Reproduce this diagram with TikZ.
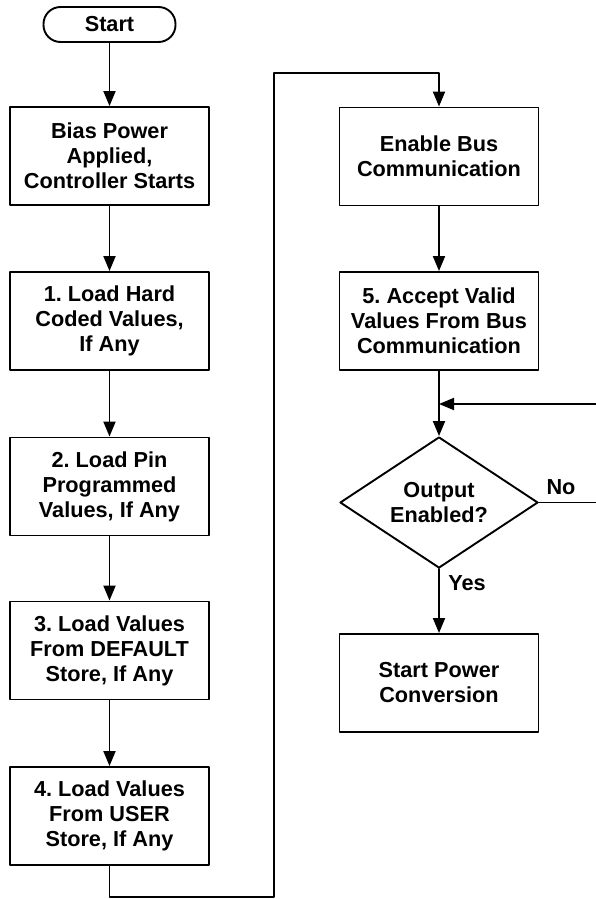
\documentclass[tikz,border=0pt]{standalone}
\usepackage{fontspec}
\setmainfont{Liberation Sans}
\frenchspacing
\usepackage{tikz}
\usetikzlibrary{arrows.meta, shapes.geometric, calc, positioning}

\begin{document}
\begin{tikzpicture}[line cap=round,line join=round,>={Triangle[length=15pt,width=12pt]},x=1pt,y=-1pt]
\tikzstyle{every node}=[font=\fontsize{21.7}{25}\selectfont\bfseries]
\tikzstyle{box}=[draw, line width=1.9pt, minimum width=199pt, minimum height=98pt, align=center, inner sep=0pt]
\tikzstyle{term}=[draw, line width=1.9pt, rounded corners=17pt, minimum width=132pt, minimum height=35pt, inner sep=0pt]
\tikzstyle{decision}=[draw, line width=1.9pt, diamond, aspect=1.51, minimum width=198pt, minimum height=131pt, align=center, inner sep=0pt]
\tikzstyle{flow}=[line width=1.9pt]
\useasboundingbox (0,0) rectangle (596,899);
% left column
\node[term] (start) at (109.5,24.5) {Start};
\node[box] (bias) at (109.5,156) {Bias Power\\Applied,\\Controller Starts};
\node[box] (load1) at (109.5,321) {1. Load Hard\\Coded Values,\\If Any};
\node[box] (load2) at (109.5,486.5) {2. Load Pin\\Programmed\\Values, If Any};
\node[box] (load3) at (109.5,650.5) {3. Load Values\\From DEFAULT\\Store, If Any};
\node[box] (load4) at (109.5,816) {4. Load Values\\From USER\\Store, If Any};
% right column
\node[box] (bus) at (439,156.5) {Enable Bus\\Communication};
\node[box] (accept) at (439,321) {5. Accept Valid\\Values From Bus\\Communication};
\coordinate (join) at (439,404);
\node[decision] (enabled) at (439,502.5) {Output\\Enabled?};
\node[box] (power) at (439,683) {Start Power\\Conversion};
\coordinate (lowturn) at (274,897);
\coordinate (highturn) at (274,73);
\coordinate (noturn) at (602,502.5);
\coordinate (backturn) at (602,404);

\draw[flow,->] (start) -- (bias);
\draw[flow,->] (bias) -- (load1);
\draw[flow,->] (load1) -- (load2);
\draw[flow,->] (load2) -- (load3);
\draw[flow,->] (load3) -- (load4);
\draw[flow,->] (load4.south) |- (lowturn) -- (highturn) -| (bus.north);
\draw[flow,->] (bus) -- (accept);
\draw[flow,->] (accept.south) -- (enabled.north);
\draw[flow,->] (enabled.east) -- (noturn) -- (backturn) -- (join);
\draw[flow,->] (enabled.south) -- (power.north);
\node (no) at (561,487) {No};
\node (yes) at (467,583) {Yes};
\end{tikzpicture}
\end{document}
